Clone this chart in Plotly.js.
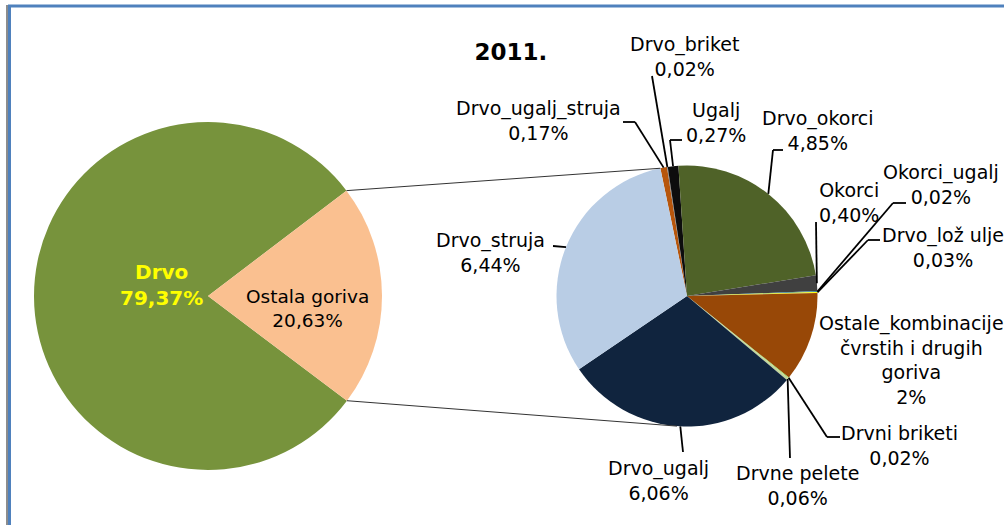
<!DOCTYPE html>
<html><head><meta charset="utf-8">
<script src="https://cdn.plot.ly/plotly-3.0.1.min.js"></script>
<style>html,body{margin:0;padding:0;background:#fff;} #chart{width:1004px;height:525px;}</style>
</head><body><div id="chart"></div>
<script>
// ---- data ----
const chartTitle = "2011.";
const bigLabels = ["Drvo", "Ostala goriva"];
const bigValues = [79.37, 20.63];
const smallLabels = ["Drvo_ugalj_struja", "Drvo_briket", "Ugalj", "Drvo_okorci", "Okorci", "Okorci_ugalj",
  "Drvo_lož ulje", "Ostale_kombinacije čvrstih i drugih goriva", "Drvni briketi", "Drvne pelete", "Drvo_ugalj", "Drvo_struja"];
const smallValues = [0.17, 0.02, 0.27, 4.85, 0.40, 0.02, 0.03, 2.29, 0.02, 0.06, 6.06, 6.44];
const smallPctText = ["0,17%", "0,02%", "0,27%", "4,85%", "0,40%", "0,02%", "0,03%", "2%", "0,02%", "0,06%", "6,06%", "6,44%"];

// ---- styles / layout ----
const W = 1004, H = 525;
const bigColors = ["#77933C", "#FAC090"];
const smallColors = ["#B7560C", "#7F7F7F", "#0D0D0D", "#4F6228", "#404040", "#31859C",
  "#FFFF00", "#984807", "#92D050", "#C3D69B", "#10243E", "#B9CDE5"];
const bigPie = {cx: 208, cy: 296, r: 174, rotation: 127};
const smallPie = {cx: 687, cy: 296, r: 130.5, rotation: -11.8};
// label centre positions (px) and leader bend/end points (px)
const smallLabelPos = [[538,120.5],[684,56.5],[716,122.5],[818,131],[849,202],[941,184],
  [942.5,247],[911,360],[899,445],[797,485],[658,480],[490,253]];
const smallLeaders = [[[635,122],[623,122]], [[652,76]], [[670,140],[682,140]], [[773,150],[783,150]],
  [[816,222]], [[893,203],[906,203]], [[868,240],[880,240]], null, [[827,437],[840,437]],
  [[790,458]], [[683,452]], [[553,246]]];
const FONT = "DejaVu Sans";

const X = x => x / W, Y = y => 1 - y / H;
const fmt = v => v.toFixed(2).replace('.', ',') + '%';
function domainOf(p){ return {x:[X(p.cx-p.r), X(p.cx+p.r)], y:[Y(p.cy+p.r), Y(p.cy-p.r)]}; }
function pt(p, deg){ const a = deg*Math.PI/180; return [p.cx + p.r*Math.sin(a), p.cy - p.r*Math.cos(a)]; }
function sliceAngles(p, values){
  const tot = values.reduce((a,b)=>a+b, 0); let a = p.rotation;
  return values.map(v => { const s = a; a += 360*v/tot; return {start:s, end:a, mid:(s+a)/2}; });
}
function wrapName(n){ return n.replace("_kombinacije ", "_kombinacije<br>").replace(" drugih ", " drugih<br>"); }

const traces = [
  {type:'pie', labels:bigLabels, values:bigValues, sort:false, direction:'clockwise', rotation:bigPie.rotation,
   marker:{colors:bigColors, line:{width:0}}, textinfo:'none', hoverinfo:'label+percent', domain:domainOf(bigPie), showlegend:false},
  {type:'pie', labels:smallLabels, values:smallValues, sort:false, direction:'clockwise', rotation:smallPie.rotation,
   marker:{colors:smallColors, line:{width:0}}, textinfo:'none', hoverinfo:'label+value', domain:domainOf(smallPie), showlegend:false}
];

const shapes = [];
function seg(a, b, w, c){ shapes.push({type:'line', xref:'paper', yref:'paper', x0:X(a[0]), y0:Y(a[1]), x1:X(b[0]), y1:Y(b[1]), line:{color:c, width:w}}); }

// frame
seg([7,5],[7,525],1,'#1a1a1a');
seg([9.5,5],[9.5,525],3,'#4F81BD');
seg([8,6],[1004,6],3,'#4F81BD');

// connector lines
const bigAng = sliceAngles(bigPie, bigValues);
const smallAng = sliceAngles(smallPie, smallValues);
const otherIdx = 1;
const pUp = pt(bigPie, bigAng[otherIdx].start);
const pDown = pt(bigPie, bigAng[otherIdx].end);
const sUp = pt(smallPie, smallAng[0].start);
const dx = pDown[0]-smallPie.cx, dy = pDown[1]-smallPie.cy;
const d = Math.hypot(dx, dy);
const theta = Math.atan2(dx, -dy)*180/Math.PI;
const tanAng = theta - Math.acos(smallPie.r/d)*180/Math.PI;
const sDown = pt(smallPie, tanAng);
seg(pUp, sUp, 1, '#333');
seg(pDown, sDown, 1, '#333');

// leaders
smallAng.forEach((a, i) => {
  const path = smallLeaders[i]; if (!path) return;
  let prev = pt(smallPie, a.mid);
  path.forEach(q => { seg(prev, q, 1.8, '#000'); prev = q; });
});

const annotations = [];
smallLabels.forEach((n, i) => {
  annotations.push({xref:'paper', yref:'paper', x:X(smallLabelPos[i][0]), y:Y(smallLabelPos[i][1]),
    xanchor:'center', yanchor:'middle', showarrow:false, align:'center',
    text: wrapName(n) + '<br>' + smallPctText[i], font:{family:FONT, size:19, color:'#000'}});
});
annotations.push({xref:'paper', yref:'paper', x:X(161), y:Y(285), xanchor:'center', yanchor:'middle', showarrow:false,
  text: bigLabels[0] + '<br>' + fmt(bigValues[0]), font:{family:FONT, size:20, color:'#FFFF00', weight:'bold'}});
annotations.push({xref:'paper', yref:'paper', x:X(307), y:Y(308), xanchor:'center', yanchor:'middle', showarrow:false,
  text: bigLabels[1] + '<br>' + fmt(bigValues[1]), font:{family:FONT, size:18.5, color:'#000'}});

const layout = {
  width:W, height:H, margin:{l:0, r:0, t:0, b:0}, paper_bgcolor:'#fff', plot_bgcolor:'#fff',
  title:{text:chartTitle, x:X(511), xanchor:'center', y:Y(52), yanchor:'middle', xref:'paper', yref:'paper',
    font:{family:FONT, size:23, color:'#000', weight:'bold'}},
  showlegend:false, shapes:shapes, annotations:annotations
};
Plotly.newPlot('chart', traces, layout, {displayModeBar:false, staticPlot:true});
</script>
</body></html>
